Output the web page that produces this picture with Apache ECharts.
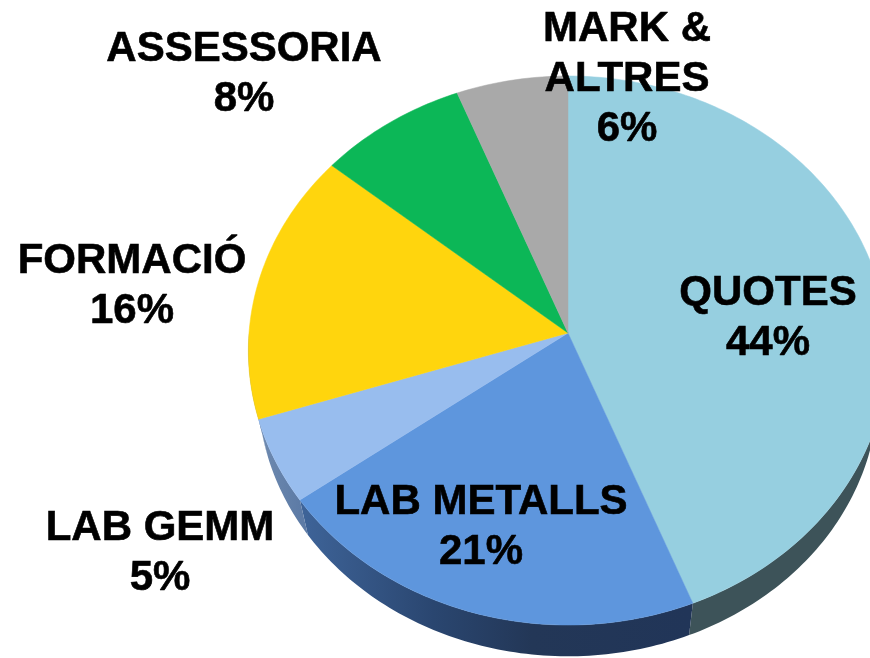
<!DOCTYPE html>
<html>
<head>
<meta charset="utf-8">
<title>Ingressos</title>
<style>
    html, body { margin: 0; padding: 0; background: #fff; }
    #chart { width: 870px; height: 658px; }
</style>
<script src="https://cdn.jsdelivr.net/npm/echarts@6/dist/echarts.min.js"></script>
</head>
<body>
<div id="chart"></div>
<script>
// chart data, clockwise from 12 o'clock
const categories = ['QUOTES', 'LAB METALLS', 'LAB GEMM', 'FORMACIÓ', 'ASSESSORIA', 'MARK &\nALTRES'];
const values = [44, 21, 5, 16, 8, 6];

const faceColors = ['#96cfe0', '#5e96dd', '#98bdee', '#ffd50d', '#0cb757', '#a9a9a9'];

// label centre for each category
const labelX = [768, 481, 160, 132, 244, 627];
const labelY = [318, 527, 553, 286, 74, 79];

// tilted disc: a circle seen in perspective
const cx = 568, cy = 333;
const radiusX = 319, radiusY = 273.4, persp = 0.0638;
const wallScale = 0.97, wallDrop = 40;

function rimPoint(deg) {
    const a = deg * Math.PI / 180;
    const d = 1 + persp * Math.cos(a);
    return [cx + radiusX * Math.sin(a) / d, cy - radiusY * Math.cos(a) / d];
}

function wallPoint(deg) {
    const p = rimPoint(deg);
    return [cx + (p[0] - cx) * wallScale, cy + (p[1] - cy) * wallScale + wallDrop];
}

// start and end angle of a slice, from the values
const total = values.reduce((s, v) => s + v, 0);
function sliceAngles(idx) {
    let before = 0;
    for (let i = 0; i < idx; i++) before += values[i];
    return [before / total * 360, (before + values[idx]) / total * 360];
}

function arc(fn, from, to) {
    const pts = [];
    const n = Math.max(2, Math.ceil(Math.abs(to - from)));
    for (let i = 0; i <= n; i++) pts.push(fn(from + (to - from) * i / n));
    return pts;
}

function wallFill(idx) {
    if (idx === 0) return '#3d5359';
    // darker towards the front of the disc
    const stops = idx === 1
        ? [{offset: 0, color: '#3f659a'}, {offset: 0.35, color: '#2a4670'}, {offset: 0.6, color: '#233757'}, {offset: 1, color: '#213558'}]
        : [{offset: 0, color: '#6f8bb0'}, {offset: 1, color: '#5d7ba6'}];
    const x = idx === 1 ? [296, 689] : [258, 300];
    return new echarts.graphic.LinearGradient(x[0], 0, x[1], 0, stops, true);
}

let myChart = echarts.init(document.getElementById('chart'), null, {renderer: 'canvas'});

let option = {
    animation: false,
    backgroundColor: '#fff',
    series: [
        {
            // side of the disc, only the front half shows
            type: 'custom',
            coordinateSystem: 'none',
            z: 1,
            silent: true,
            data: values,
            renderItem: function (params) {
                const ang = sliceAngles(params.dataIndex);
                const from = Math.max(ang[0], 90), to = Math.min(ang[1], 270);
                if (from >= to) return {type: 'group', children: []};
                const pts = arc(rimPoint, from, to).concat(arc(wallPoint, to, from));
                return {
                    type: 'polygon',
                    shape: {points: pts},
                    style: {fill: wallFill(params.dataIndex)}
                };
            }
        },
        {
            // top face
            type: 'custom',
            coordinateSystem: 'none',
            z: 2,
            silent: true,
            data: values,
            renderItem: function (params) {
                const ang = sliceAngles(params.dataIndex);
                const color = faceColors[params.dataIndex];
                return {
                    type: 'polygon',
                    shape: {points: [[cx, cy]].concat(arc(rimPoint, ang[0], ang[1]))},
                    style: {fill: color, stroke: color, lineWidth: 0.5}
                };
            }
        },
        {
            // category and percentage
            type: 'custom',
            coordinateSystem: 'none',
            z: 3,
            silent: true,
            data: values,
            renderItem: function (params) {
                const i = params.dataIndex;
                return {
                    type: 'text',
                    style: {
                        text: categories[i] + '\n' + values[i] + '%',
                        x: labelX[i],
                        y: labelY[i],
                        align: 'center',
                        verticalAlign: 'middle',
                        fill: '#000',
                        stroke: '#000',
                        lineWidth: 0.6,
                        fontFamily: '"Liberation Sans", Arial, sans-serif',
                        fontWeight: 'bold',
                        fontSize: 42,
                        lineHeight: 50
                    }
                };
            }
        }
    ]
};

myChart.setOption(option);
</script>
</body>
</html>
